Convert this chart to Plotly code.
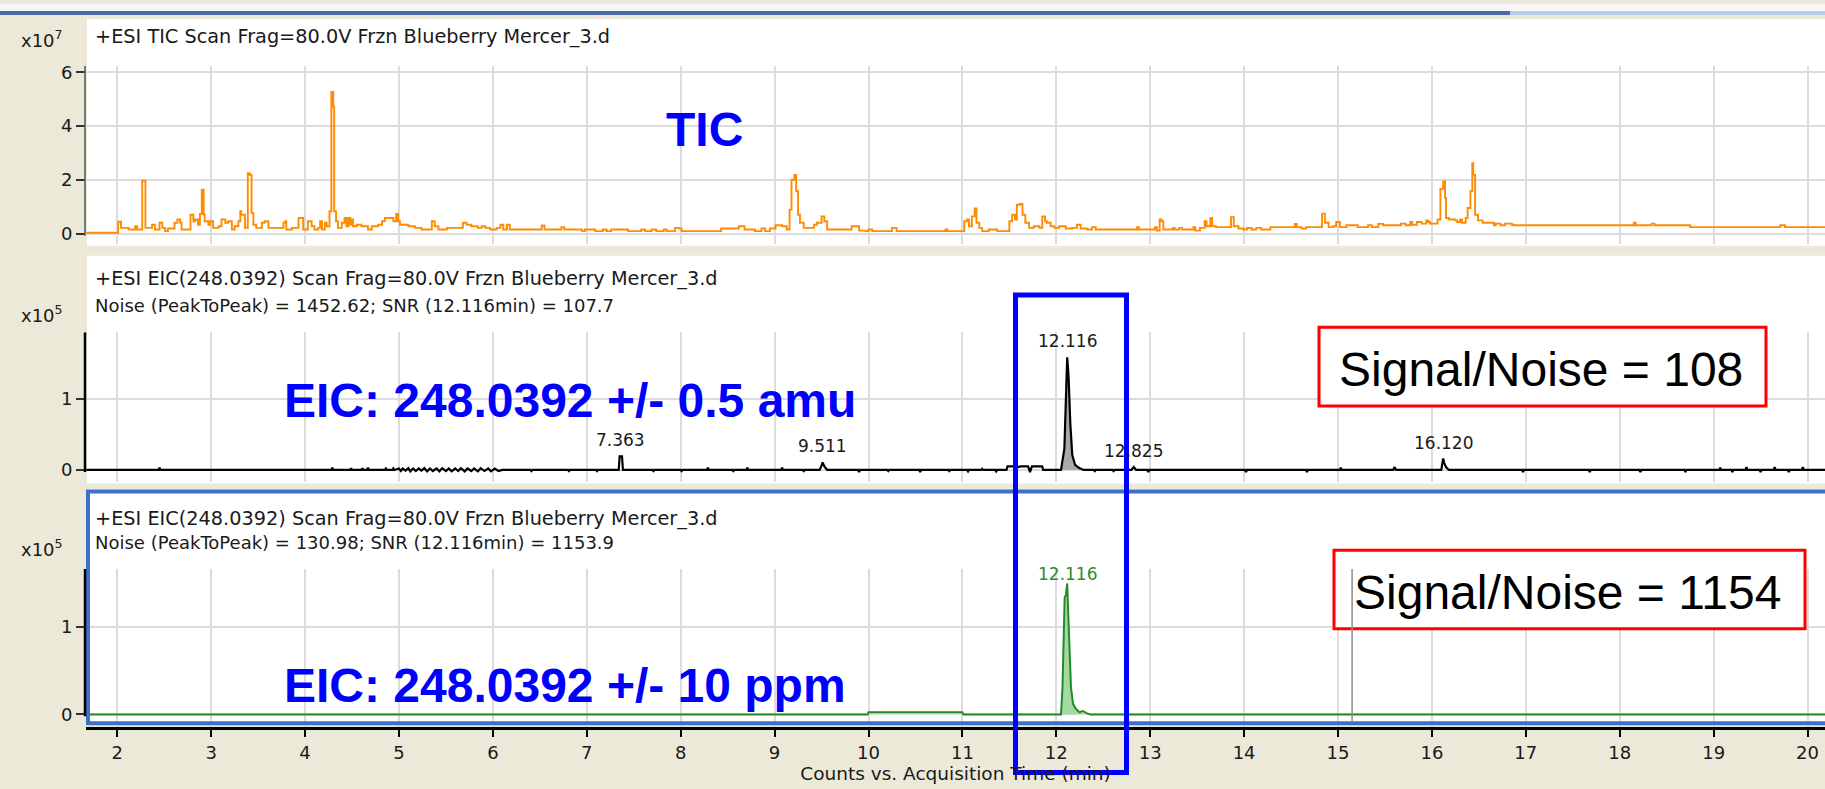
import plotly.graph_objects as go

W, H = 1825, 789

# ---------------- data ----------------
# Total ion chromatogram, counts x10^7
tic_time = [
    1.67, 2.01, 2.04, 2.12, 2.19, 2.21, 2.266, 2.30, 2.37, 2.40, 2.45, 2.48, 2.51, 2.54, 2.61, 2.64,
    2.67, 2.685, 2.78, 2.81, 2.83, 2.86, 2.88, 2.90, 2.92, 2.93, 2.97, 2.99, 3.02, 3.08, 3.11, 3.15,
    3.18, 3.22, 3.25, 3.29, 3.31, 3.32, 3.36, 3.39, 3.41, 3.43, 3.45, 3.48, 3.54, 3.57, 3.61, 3.77,
    3.79, 3.80, 3.86, 3.93, 3.98, 4.03, 4.07, 4.10, 4.14, 4.16, 4.18, 4.21, 4.23, 4.26, 4.28, 4.30,
    4.31, 4.33, 4.35, 4.39, 4.42, 4.44, 4.46, 4.48, 4.50, 4.51, 4.55, 4.60, 4.67, 4.71, 4.78, 4.82,
    4.85, 4.94, 4.97, 4.99, 5.01, 5.10, 5.17, 5.24, 5.35, 5.38, 5.42, 5.51, 5.68, 5.72, 5.77, 5.84,
    5.88, 5.92, 5.97, 6.04, 6.08, 6.11, 6.15, 6.18, 6.52, 6.55, 6.73, 6.76, 6.95, 6.98, 7.09, 7.17,
    7.21, 7.26, 7.44, 7.58, 7.62, 7.69, 7.74, 7.82, 7.85, 7.94, 7.98, 8.01, 8.43, 8.62, 8.68, 8.79,
    8.86, 8.90, 8.95, 9.01, 9.08, 9.13, 9.16, 9.18, 9.21, 9.23, 9.25, 9.27, 9.31, 9.42, 9.45, 9.50,
    9.53, 9.56, 9.82, 9.90, 9.97, 10.00, 10.04, 10.25, 10.30, 10.82, 10.84, 11.02, 11.05, 11.07, 11.10, 11.13,
    11.15, 11.18, 11.21, 11.28, 11.37, 11.50, 11.53, 11.56, 11.58, 11.61, 11.64, 11.67, 11.71, 11.76, 11.82, 11.85,
    11.88, 11.90, 11.94, 11.98, 12.03, 12.10, 12.17, 12.22, 12.26, 12.33, 12.38, 12.42, 12.86, 12.88, 13.05, 13.07,
    13.10, 13.12, 13.14, 13.24, 13.26, 13.31, 13.34, 13.46, 13.48, 13.53, 13.58, 13.60, 13.64, 13.66, 13.70, 13.86,
    13.89, 13.94, 13.99, 14.03, 14.08, 14.13, 14.18, 14.28, 14.54, 14.56, 14.61, 14.66, 14.83, 14.86, 14.90, 14.95,
    14.98, 15.02, 15.09, 15.21, 15.32, 15.36, 15.43, 15.48, 15.67, 15.72, 15.77, 15.79, 15.84, 15.89, 15.94, 15.96,
    15.98, 16.06, 16.09, 16.12, 16.14, 16.15, 16.18, 16.25, 16.27, 16.30, 16.32, 16.36, 16.38, 16.41, 16.43, 16.44,
    16.46, 16.49, 16.54, 16.66, 16.68, 16.73, 16.78, 16.85, 16.87, 18.15, 18.17, 18.34, 18.37, 18.75, 19.71, 19.76,
    20.19,
]
tic_counts = [
    0.04, 0.45, 0.22, 0.16, 0.28, 0.16, 1.97, 0.22, 0.34, 0.16, 0.41, 0.22, 0.10, 0.20, 0.41, 0.53,
    0.41, 0.16, 0.71, 0.47, 0.53, 0.34, 0.74, 1.64, 0.71, 0.47, 0.34, 0.47, 0.22, 0.28, 0.53, 0.41,
    0.47, 0.16, 0.28, 0.47, 0.84, 0.71, 0.22, 2.25, 2.19, 0.78, 0.34, 0.22, 0.41, 0.47, 0.22, 0.41,
    0.47, 0.16, 0.22, 0.59, 0.16, 0.47, 0.28, 0.16, 0.22, 0.47, 0.16, 0.41, 0.28, 0.84, 5.27, 4.72,
    0.84, 0.47, 0.22, 0.41, 0.59, 0.28, 0.59, 0.34, 0.53, 0.28, 0.34, 0.28, 0.16, 0.28, 0.34, 0.47,
    0.59, 0.47, 0.74, 0.47, 0.34, 0.28, 0.22, 0.16, 0.47, 0.28, 0.16, 0.22, 0.41, 0.34, 0.28, 0.22,
    0.28, 0.22, 0.16, 0.22, 0.34, 0.16, 0.34, 0.16, 0.31, 0.16, 0.25, 0.16, 0.10, 0.16, 0.10, 0.16,
    0.10, 0.16, 0.10, 0.16, 0.10, 0.16, 0.10, 0.16, 0.10, 0.22, 0.20, 0.10, 0.20, 0.28, 0.16, 0.10,
    0.20, 0.10, 0.20, 0.32, 0.28, 0.16, 0.90, 2.01, 2.19, 1.58, 0.71, 0.41, 0.22, 0.34, 0.41, 0.65,
    0.47, 0.16, 0.28, 0.12, 0.10, 0.16, 0.10, 0.22, 0.10, 0.16, 0.10, 0.47, 0.53, 0.28, 0.65, 0.94,
    0.41, 0.22, 0.10, 0.16, 0.10, 0.47, 0.71, 0.53, 1.08, 1.11, 0.71, 0.41, 0.22, 0.28, 0.22, 0.65,
    0.47, 0.41, 0.28, 0.22, 0.28, 0.20, 0.22, 0.34, 0.20, 0.16, 0.25, 0.16, 0.25, 0.16, 0.25, 0.12,
    0.53, 0.47, 0.16, 0.22, 0.16, 0.22, 0.16, 0.25, 0.12, 0.22, 0.47, 0.28, 0.59, 0.28, 0.25, 0.62,
    0.28, 0.20, 0.16, 0.22, 0.16, 0.22, 0.16, 0.25, 0.37, 0.25, 0.20, 0.25, 0.75, 0.41, 0.25, 0.28,
    0.44, 0.25, 0.32, 0.25, 0.32, 0.25, 0.37, 0.32, 0.38, 0.32, 0.44, 0.34, 0.44, 0.38, 0.50, 0.44,
    0.38, 0.53, 1.67, 1.95, 1.33, 0.59, 0.53, 0.50, 0.44, 0.53, 0.41, 0.59, 0.96, 1.58, 2.62, 2.19,
    0.71, 0.50, 0.41, 0.32, 0.38, 0.32, 0.38, 0.34, 0.32, 0.41, 0.32, 0.38, 0.32, 0.25, 0.32, 0.25,
    0.25,
]

# EIC 248.0392 +/- 0.5 amu, counts x10^5
eic_amu_time = [
    1.67, 2.44, 2.45, 2.46, 4.28, 4.29, 4.30, 4.48, 4.49, 4.50, 4.60, 4.61, 4.62, 4.66, 4.67, 4.68,
    4.85, 4.86, 4.87, 4.93, 4.94, 4.95,
    5.00, 5.02, 5.04, 5.07, 5.10, 5.12, 5.15, 5.18, 5.21, 5.24, 5.27, 5.30, 5.33, 5.36, 5.40, 5.43,
    5.46, 5.50, 5.53, 5.56, 5.60, 5.63, 5.66, 5.70, 5.73, 5.77, 5.80, 5.84, 5.87, 5.91, 5.95, 5.98,
    6.02, 6.06, 6.10,
    6.40, 6.41, 6.42, 6.80, 6.81, 6.82, 7.10, 7.11, 7.12, 7.34, 7.35, 7.375, 7.385, 7.70, 7.71, 7.72,
    8.00, 8.01, 8.02, 8.28, 8.29, 8.30, 8.55, 8.56, 8.57, 8.70, 8.71, 8.72, 9.07, 9.08, 9.09, 9.30,
    9.31, 9.32, 9.48, 9.50, 9.511, 9.53, 9.56, 9.89, 9.90, 9.91, 10.20, 10.21, 10.22, 10.54, 10.55, 10.56,
    10.85, 10.86, 10.87, 11.05, 11.06, 11.07, 11.20, 11.21, 11.22, 11.35, 11.36, 11.37, 11.47, 11.48, 11.55, 11.56,
    11.62, 11.70, 11.72, 11.74, 11.85, 11.86,
    12.05, 12.086, 12.104, 12.116, 12.13, 12.15, 12.17, 12.20, 12.24, 12.29,
    12.40, 12.41, 12.42, 12.60, 12.61, 12.62, 12.80, 12.825, 12.85, 12.97, 12.98, 12.99, 14.01, 14.02, 14.03, 14.66,
    14.67, 14.68, 15.02, 15.03, 15.04, 15.59, 15.60, 15.62, 16.10, 16.12, 16.13, 16.15, 16.18, 16.96, 16.97, 16.98,
    17.67, 17.68, 17.69, 18.21, 18.22, 18.23, 18.69, 18.70, 18.71, 19.06, 19.07, 19.08, 19.19, 19.20, 19.21, 19.34,
    19.35, 19.36, 19.49, 19.50, 19.51, 19.64, 19.65, 19.66, 19.79, 19.80, 19.81, 19.94, 19.95, 19.96, 20.19,
]
eic_amu_counts = [
    0.0, 0.0, 0.03, 0.0, 0.0, 0.03, 0.0, 0.0, 0.025, 0.0, 0.0, 0.025, 0.0, 0.0, 0.03, 0.0,
    0.0, 0.02, 0.0, 0.0, 0.02, 0.0,
    0.02, -0.015, 0.02, -0.01, 0.025, -0.02, 0.02, -0.015, 0.02, -0.01, 0.025, -0.02, 0.02, -0.015, 0.02, -0.02,
    0.025, -0.015, 0.02, -0.02, 0.02, -0.015, 0.025, -0.02, 0.02, -0.015, 0.02, -0.02, 0.025, -0.015, 0.02, -0.02,
    0.02, -0.015, 0.0,
    0.0, -0.015, 0.0, 0.0, -0.015, 0.0, 0.0, -0.015, 0.0, 0.0, 0.19, 0.19, 0.0, 0.0, -0.015, 0.0,
    0.0, -0.015, 0.0, 0.0, 0.03, 0.0, 0.0, -0.015, 0.0, 0.0, 0.03, 0.0, 0.0, 0.03, 0.0, 0.0,
    -0.015, 0.0, 0.0, 0.06, 0.107, 0.05, 0.0, 0.0, -0.03, 0.0, 0.0, -0.015, 0.0, 0.0, -0.03, 0.0,
    0.0, -0.015, 0.0, 0.0, -0.02, 0.0, 0.0, 0.015, 0.0, 0.0, -0.02, 0.0, 0.0, 0.05, 0.05, 0.03,
    0.05, 0.05, -0.03, 0.05, 0.05, 0.0,
    0.0, 0.30, 1.09, 1.58, 1.33, 0.63, 0.21, 0.07, 0.03, 0.0,
    0.0, -0.015, 0.0, 0.0, -0.015, 0.0, 0.0, 0.04, 0.0, 0.0, -0.03, 0.0, 0.0, -0.03, 0.0, 0.0,
    -0.03, 0.0, 0.0, 0.03, 0.0, 0.0, 0.04, 0.0, 0.0, 0.16, 0.10, 0.04, 0.0, 0.0, -0.03, 0.0,
    0.0, -0.03, 0.0, 0.0, -0.03, 0.0, 0.0, -0.03, 0.0, 0.0, 0.03, 0.0, 0.0, -0.03, 0.0, 0.0,
    0.04, 0.0, 0.0, -0.03, 0.0, 0.0, 0.04, 0.0, 0.0, -0.03, 0.0, 0.0, 0.04, 0.0, 0.0,
]

# EIC 248.0392 +/- 10 ppm, counts x10^5
eic_ppm_time = [
    1.67, 9.99, 10.00, 11.00, 11.01, 12.05, 12.066, 12.077, 12.089, 12.103, 12.116, 12.126, 12.141, 12.156,
    12.178, 12.208, 12.245, 12.282, 12.32, 12.36, 20.19,
]
eic_ppm_counts = [
    0.0, 0.0, 0.025, 0.025, 0.0, 0.0, 0.31, 0.90, 1.33, 1.36, 1.49, 1.18, 0.65, 0.31,
    0.12, 0.064, 0.026, 0.038, 0.015, 0.0, 0.0,
]

# labelled retention times
amu_peak_times = [7.363, 9.511, 12.116, 12.825, 16.120]
amu_peak_labels = ["7.363", "9.511", "12.116", "12.825", "16.120"]
ppm_peak_times = [12.116]
ppm_peak_labels = ["12.116"]
integrated_window = (12.04, 12.30)
cursor_time = 15.15

x_tick_values = list(range(2, 21))
tic_tick_values = [0, 2, 4, 6]
eic_tick_values = [0, 1]

# ---------------- helpers ----------------
def px(x):
    return x / W


def py(y):
    return 1 - y / H


X_RANGE = [1.667, 20.186]
X_DOMAIN = [px(86), 1.0]
SMALL = dict(family="DejaVu Sans", size=18, color="#1a1a1a")
TITLE = dict(family="DejaVu Sans", size=19.3, color="#1a1a1a")
AXIS_TITLE = dict(family="DejaVu Sans", size=18.5, color="#1a1a1a")
GRID = "#dcdcdc"

fig = go.Figure()

# TIC
fig.add_trace(go.Scatter(x=tic_time, y=tic_counts, mode="lines", line_shape="hv",
                         line=dict(color="#ff8c00", width=1.9), xaxis="x", yaxis="y",
                         hoverinfo="skip"))


def window(times, counts, lo, hi):
    pairs = [(t, c) for t, c in zip(times, counts) if lo <= t <= hi]
    return [p[0] for p in pairs], [max(p[1], 0) for p in pairs]


# EIC +/- 0.5 amu with integrated peak area
wx, wy = window(eic_amu_time, eic_amu_counts, *integrated_window)
fig.add_trace(go.Scatter(x=wx, y=wy, mode="lines", fill="tozeroy", fillcolor="#a9a9a9",
                         line=dict(width=0), xaxis="x2", yaxis="y2", hoverinfo="skip"))
fig.add_trace(go.Scatter(x=eic_amu_time, y=eic_amu_counts, mode="lines",
                         line=dict(color="#000000", width=2.2), xaxis="x2", yaxis="y2",
                         hoverinfo="skip"))

# EIC +/- 10 ppm with integrated peak area
nx, ny = window(eic_ppm_time, eic_ppm_counts, *integrated_window)
fig.add_trace(go.Scatter(x=nx, y=ny, mode="lines", fill="tozeroy", fillcolor="#a6d8a6",
                         line=dict(width=0), xaxis="x3", yaxis="y3", hoverinfo="skip"))
fig.add_trace(go.Scatter(x=eic_ppm_time, y=eic_ppm_counts, mode="lines",
                         line=dict(color="#228b22", width=2), xaxis="x3", yaxis="y3",
                         hoverinfo="skip"))

xcommon = dict(range=X_RANGE, domain=X_DOMAIN, tickvals=x_tick_values, showgrid=True,
               gridcolor=GRID, gridwidth=2, zeroline=False, fixedrange=True)
ycommon = dict(showgrid=True, gridcolor=GRID, gridwidth=2, zeroline=False, ticks="outside",
               ticklen=9, tickwidth=1.5, tickcolor="#333333", tickfont=SMALL, fixedrange=True,
               showline=False)

fig.update_layout(
    width=W, height=H,
    margin=dict(l=0, r=0, t=0, b=0),
    paper_bgcolor="#ece9d8",
    plot_bgcolor="rgba(0,0,0,0)",
    showlegend=False,
    xaxis=dict(**xcommon, anchor="y", showticklabels=False, ticks=""),
    yaxis=dict(**ycommon, anchor="x", domain=[py(241), py(62)], range=[-0.369, 6.243],
               tickvals=tic_tick_values),
    xaxis2=dict(**xcommon, anchor="y2", showticklabels=False, ticks=""),
    yaxis2=dict(**ycommon, anchor="x2", domain=[py(480), py(330)], range=[-0.163, 1.931],
                tickvals=eic_tick_values),
    xaxis3=dict(**xcommon, anchor="y3", showticklabels=True, ticks="outside", ticklen=7,
                tickwidth=2, tickcolor="#000000", showline=True, linecolor="#000000",
                linewidth=3, tickfont=SMALL,
                title=dict(text="Counts vs. Acquisition Time (min)", font=AXIS_TITLE, standoff=4)),
    yaxis3=dict(**ycommon, anchor="x3", domain=[py(727), py(568)], range=[-0.147, 1.653],
                tickvals=eic_tick_values),
)

shapes = []
# window chrome and panel backgrounds
shapes.append(dict(type="rect", xref="paper", yref="paper", x0=0, x1=1, y0=py(7), y1=1,
                   fillcolor="#f6f6f6", line_width=0, layer="below"))
shapes.append(dict(type="rect", xref="paper", yref="paper", x0=0, x1=px(1510), y0=py(11), y1=py(7),
                   fillcolor="#4a6da7", line_width=0, layer="below"))
shapes.append(dict(type="rect", xref="paper", yref="paper", x0=px(1510), x1=1, y0=py(11), y1=py(7),
                   fillcolor="#b6cdeb", line_width=0, layer="below"))
for top, bottom in [(15, 243), (253, 482), (488, 724)]:
    shapes.append(dict(type="rect", xref="paper", yref="paper", x0=px(87), x1=1.01,
                       y0=py(bottom), y1=py(top), fillcolor="#ffffff", line_width=0,
                       layer="below"))
# selected-panel frame
shapes.append(dict(type="rect", xref="paper", yref="paper", x0=px(88), x1=1.01,
                   y0=py(723), y1=py(490), line=dict(color="#3f6fc6", width=4), layer="above"))
# y-axis lines
shapes.append(dict(type="line", xref="paper", yref="y", x0=px(85), x1=px(85), y0=-0.07,
                   y1=6.243, line=dict(color="#555555", width=1.5)))
shapes.append(dict(type="line", xref="paper", yref="y2", x0=px(85), x1=px(85), y0=-0.03,
                   y1=1.931, line=dict(color="#000000", width=2.5)))
shapes.append(dict(type="line", xref="paper", yref="y3", x0=px(85), x1=px(85), y0=-0.02,
                   y1=1.653, line=dict(color="#000000", width=2.5)))
# signal/noise boxes
shapes.append(dict(type="rect", xref="paper", yref="paper", x0=px(1319), x1=px(1766),
                   y0=py(404), y1=py(325), fillcolor="#ffffff",
                   line=dict(color="#ff0000", width=3), layer="above"))
shapes.append(dict(type="rect", xref="paper", yref="paper", x0=px(1334), x1=px(1805),
                   y0=py(628), y1=py(549), fillcolor="#ffffff",
                   line=dict(color="#ff0000", width=3), layer="above"))
# cursor in bottom panel
shapes.append(dict(type="line", xref="x3", yref="paper", x0=cursor_time, x1=cursor_time,
                   y0=py(721), y1=py(568), line=dict(color="#8c8c8c", width=1.5), layer="above"))
# highlight around the 12.116 min peak
shapes.append(dict(type="rect", xref="paper", yref="paper", x0=px(1015.5), x1=px(1126.5),
                   y0=py(772.5), y1=py(292.5), line=dict(color="#0000ff", width=5), layer="above"))
fig.update_layout(shapes=shapes)

ann = []


def text(x, y, s, font, xanchor="left", yanchor="middle"):
    ann.append(dict(x=px(x), y=py(y), xref="paper", yref="paper", text=s, showarrow=False,
                    xanchor=xanchor, yanchor=yanchor, font=font))


text(19, 35, "x10<sup>7</sup>", SMALL)
text(93, 33, "+ESI TIC Scan Frag=80.0V Frzn Blueberry Mercer_3.d", TITLE)
text(19, 312, "x10<sup>5</sup>", SMALL)
text(93, 276, "+ESI EIC(248.0392) Scan Frag=80.0V Frzn Blueberry Mercer_3.d", TITLE)
text(93, 303, "Noise (PeakToPeak) = 1452.62; SNR (12.116min) = 107.7", SMALL)
text(19, 547, "x10<sup>5</sup>", SMALL)
text(93, 517, "+ESI EIC(248.0392) Scan Frag=80.0V Frzn Blueberry Mercer_3.d", TITLE)
text(93, 541, "Noise (PeakToPeak) = 130.98; SNR (12.116min) = 1153.9", SMALL)

BIG_BLUE = dict(family="Liberation Sans", size=48, color="#0000ff")
text(704, 126, "<b>TIC</b>", BIG_BLUE, xanchor="center")
text(282, 399, "<b>EIC: 248.0392 +/- 0.5 amu</b>", BIG_BLUE)
text(282, 685, "<b>EIC: 248.0392 +/- 10 ppm</b>", BIG_BLUE)

BOX = dict(family="Liberation Sans", size=48, color="#000000")
text(1337, 367, "Signal/Noise = 108", BOX)
text(1352, 591, "Signal/Noise = 1154", BOX)


def peak_height(times, counts, t0):
    return max(c for t, c in zip(times, counts) if abs(t - t0) <= 0.04)


PEAK_FONT = dict(family="DejaVu Sans", size=17, color="#1a1a1a")
for t0, lab in zip(amu_peak_times, amu_peak_labels):
    ann.append(dict(x=t0, y=peak_height(eic_amu_time, eic_amu_counts, t0), xref="x2", yref="y2",
                    text=lab, showarrow=False, yanchor="bottom", yshift=4, font=PEAK_FONT))
for t0, lab in zip(ppm_peak_times, ppm_peak_labels):
    ann.append(dict(x=t0, y=peak_height(eic_ppm_time, eic_ppm_counts, t0), xref="x3", yref="y3",
                    text=lab, showarrow=False, yanchor="bottom", yshift=-3,
                    font=dict(family="DejaVu Sans", size=17, color="#2e8b2e")))

fig.update_layout(annotations=ann)
fig.write_html("out.html")
